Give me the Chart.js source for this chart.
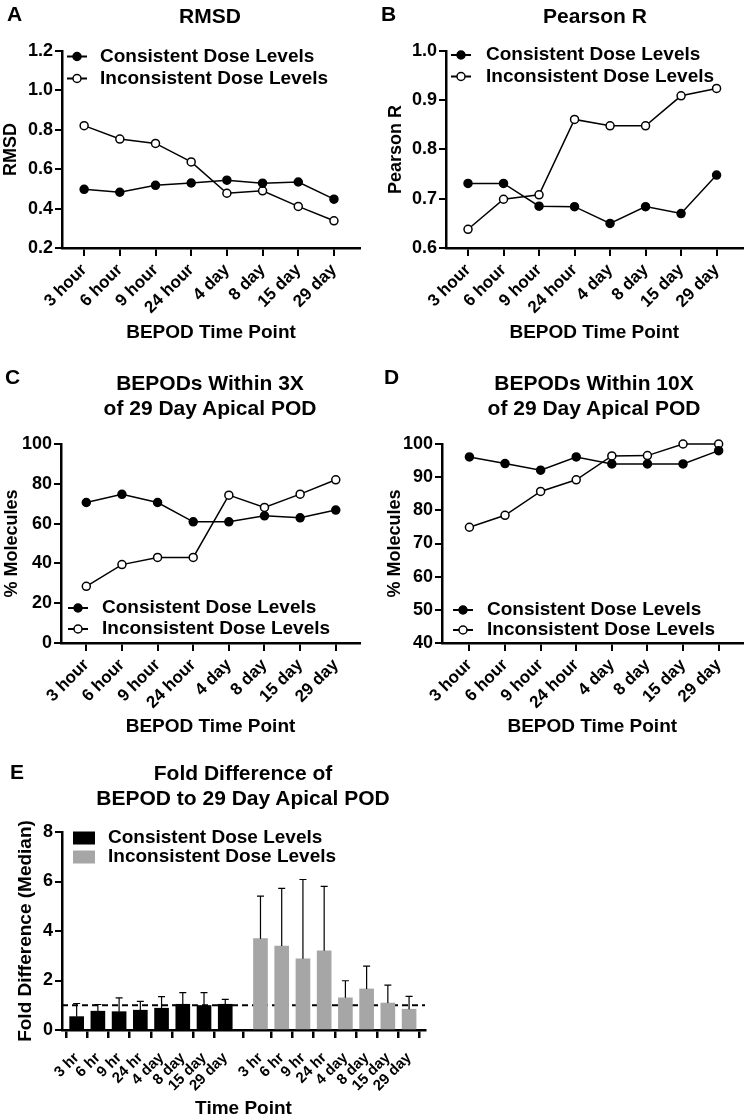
<!DOCTYPE html>
<html>
<head>
<meta charset="utf-8">
<script src="https://cdn.jsdelivr.net/npm/chart.js@4.4.1/dist/chart.umd.min.js"></script>
<style>
  body { margin: 0; background: #fff; }
  #page { position: relative; width: 748px; height: 1120px; font-family: 'Liberation Sans', Arial, sans-serif; font-weight: bold; color: #000; }
  .panel { position: absolute; }
  .letter { position: absolute; font-size: 21px; line-height: 25px; }
  .title { position: absolute; width: 400px; text-align: center; font-size: 21px; line-height: 25px; white-space: nowrap; }
</style>
</head>
<body>
<div id="page">
  <div class="panel" style="left:0;top:0"><canvas id="chartA" width="374" height="345"></canvas></div>
  <div class="panel" style="left:374px;top:0"><canvas id="chartB" width="374" height="345"></canvas></div>
  <div class="panel" style="left:0;top:345px"><canvas id="chartC" width="374" height="395"></canvas></div>
  <div class="panel" style="left:374px;top:345px"><canvas id="chartD" width="374" height="395"></canvas></div>
  <div class="panel" style="left:0;top:745px"><canvas id="chartE" width="440" height="375"></canvas></div>

  <div class="letter" style="left:7px;top:1px">A</div>
  <div class="title" style="left:10px;top:3px">RMSD</div>
  <div class="letter" style="left:381px;top:1px">B</div>
  <div class="title" style="left:395px;top:3px">Pearson R</div>
  <div class="letter" style="left:5px;top:364px">C</div>
  <div class="title" style="left:10px;top:370px">BEPODs Within 3X<br>of 29 Day Apical POD</div>
  <div class="letter" style="left:384px;top:364px">D</div>
  <div class="title" style="left:394px;top:370px">BEPODs Within 10X<br>of 29 Day Apical POD</div>
  <div class="letter" style="left:10px;top:759px">E</div>
  <div class="title" style="left:43px;top:760px">Fold Difference of<br>BEPOD to 29 Day Apical POD</div>
</div>

<script>
// Data
const timeLabels = ['3 hour', '6 hour', '9 hour', '24 hour', '4 day', '8 day', '15 day', '29 day'];
const seriesNames = ['Consistent Dose Levels', 'Inconsistent Dose Levels'];

const rmsdConsistent = [0.498, 0.483, 0.518, 0.530, 0.544, 0.529, 0.535, 0.448];
const rmsdInconsistent = [0.821, 0.753, 0.731, 0.637, 0.478, 0.490, 0.411, 0.338];

const pearsonConsistent = [0.731, 0.731, 0.685, 0.684, 0.650, 0.684, 0.670, 0.748];
const pearsonInconsistent = [0.638, 0.699, 0.708, 0.861, 0.848, 0.848, 0.909, 0.924];

const within3xConsistent = [70.6, 74.7, 70.6, 60.9, 60.9, 63.9, 62.9, 66.8];
const within3xInconsistent = [28.5, 39.4, 43.0, 43.0, 74.3, 68.1, 74.8, 82.0];

const within10xConsistent = [96.1, 94.1, 92.1, 96.1, 94.0, 94.0, 94.0, 98.0];
const within10xInconsistent = [74.9, 78.5, 85.7, 89.2, 96.4, 96.5, 100, 100];

const foldLabels = ['3 hr', '6 hr', '9 hr', '24 hr', '4 day', '8 day', '15 day', '29 day'];
const foldConsistent = [0.54, 0.76, 0.74, 0.80, 0.88, 1.04, 0.99, 1.04];
const foldConsistentErr = [0.53, 0.27, 0.56, 0.36, 0.47, 0.47, 0.52, 0.20];
const foldInconsistent = [3.69, 3.39, 2.88, 3.20, 1.30, 1.66, 1.09, 0.84];
const foldInconsistentErr = [1.72, 2.33, 3.20, 2.60, 0.69, 0.92, 0.72, 0.52];
const foldReference = 1;

const FONT = "'Liberation Sans', Arial, sans-serif";
Chart.defaults.font.family = FONT;
Chart.defaults.font.weight = 'bold';
Chart.defaults.color = '#000';

// Legend drawn inside the plot area
const innerLegend = {
    id: 'innerLegend',
    afterDraw(chart, args, opts) {
        const ctx = chart.ctx;
        ctx.save();
        ctx.font = 'bold 19px ' + FONT;
        ctx.textBaseline = 'middle';
        chart.data.datasets.forEach(function(ds, i) {
            const y = opts.rows[i];
            if (opts.kind === 'box') {
                ctx.fillStyle = ds.backgroundColor;
                ctx.fillRect(opts.markX, y - 6.5, 22, 13);
            } else {
                ctx.strokeStyle = '#000';
                ctx.lineWidth = 2;
                ctx.beginPath();
                ctx.moveTo(opts.markX, y);
                ctx.lineTo(opts.markX + 20, y);
                ctx.stroke();
                ctx.beginPath();
                ctx.arc(opts.markX + 10, y, 4, 0, Math.PI * 2);
                ctx.fillStyle = ds.pointBackgroundColor;
                ctx.fill();
                ctx.lineWidth = 1.5;
                ctx.stroke();
            }
            ctx.fillStyle = '#000';
            ctx.fillText(ds.label, opts.textX, y);
        });
        ctx.restore();
    }
};

// Upward error bars for the bar chart
const errorBars = {
    id: 'errorBars',
    afterDatasetsDraw(chart) {
        const ctx = chart.ctx;
        const yScale = chart.scales.y;
        ctx.save();
        ctx.strokeStyle = '#000';
        ctx.lineWidth = 1.2;
        chart.data.datasets.forEach(function(ds, i) {
            if (!ds.errors) return;
            chart.getDatasetMeta(i).data.forEach(function(bar, j) {
                const top = yScale.getPixelForValue(ds.data[j].y + ds.errors[j]);
                ctx.beginPath();
                ctx.moveTo(bar.x, bar.y);
                ctx.lineTo(bar.x, top);
                ctx.moveTo(bar.x - 3.5, top);
                ctx.lineTo(bar.x + 3.5, top);
                ctx.stroke();
            });
        });
        ctx.restore();
    }
};

// Dashed reference line at fold difference = 1
const refLine = {
    id: 'refLine',
    beforeDatasetsDraw(chart) {
        const ctx = chart.ctx;
        const area = chart.chartArea;
        const y = chart.scales.y.getPixelForValue(foldReference);
        ctx.save();
        ctx.strokeStyle = '#000';
        ctx.lineWidth = 2;
        ctx.setLineDash([6, 4]);
        ctx.beginPath();
        ctx.moveTo(area.left, y);
        ctx.lineTo(area.right, y);
        ctx.stroke();
        ctx.restore();
    }
};

function toPoints(values, start) {
    return values.map(function(v, i) { return { x: i + (start || 0), y: v }; });
}

// Build one of the four line panels
function createLineChart(id, opt) {
    const ctx = document.getElementById(id).getContext('2d');
    new Chart(ctx, {
        type: 'line',
        data: {
            datasets: [
                {
                    label: seriesNames[0],
                    data: toPoints(opt.consistent),
                    borderColor: '#000',
                    borderWidth: 1.5,
                    pointRadius: 4,
                    pointBorderWidth: 1.5,
                    pointBorderColor: '#000',
                    pointBackgroundColor: '#000',
                    clip: false
                },
                {
                    label: seriesNames[1],
                    data: toPoints(opt.inconsistent),
                    borderColor: '#000',
                    borderWidth: 1.5,
                    pointRadius: 4,
                    pointBorderWidth: 1.5,
                    pointBorderColor: '#000',
                    pointBackgroundColor: '#fff',
                    clip: false
                }
            ]
        },
        options: {
            responsive: false,
            animation: false,
            layout: { padding: { left: 0, right: opt.padRight, top: opt.padTop, bottom: 0 } },
            plugins: {
                legend: { display: false },
                tooltip: { enabled: false },
                innerLegend: opt.legend
            },
            scales: {
                x: {
                    type: 'linear',
                    min: opt.xMin,
                    max: opt.xMax,
                    afterBuildTicks: function(scale) {
                        scale.ticks = timeLabels.map(function(t, i) { return { value: i }; });
                    },
                    afterFit: function(scale) {
                        scale.height = opt.xHeight;
                        scale.paddingLeft = 0;
                        scale.paddingRight = 0;
                    },
                    ticks: {
                        autoSkip: false,
                        minRotation: 45,
                        maxRotation: 45,
                        padding: 4,
                        font: { size: 17, weight: 'bold' },
                        callback: function(value, index) { return timeLabels[index]; }
                    },
                    grid: { display: true, drawOnChartArea: false, drawTicks: true, tickLength: 8, color: '#000', lineWidth: 2 },
                    border: { display: true, color: '#000', width: 2.5 },
                    title: { display: true, text: 'BEPOD Time Point', font: { size: 19, weight: 'bold' }, padding: { top: 0, bottom: opt.xTitlePad } }
                },
                y: {
                    min: opt.yMin,
                    max: opt.yMax,
                    afterFit: function(scale) { scale.width = opt.yWidth; },
                    ticks: {
                        stepSize: opt.yStep,
                        padding: 2,
                        font: { size: 18, weight: 'bold' },
                        callback: function(value) { return opt.yDecimals ? value.toFixed(opt.yDecimals) : value; }
                    },
                    grid: { display: true, drawOnChartArea: false, drawTicks: true, tickLength: 7, color: '#000', lineWidth: 2 },
                    border: { display: true, color: '#000', width: 2.5 },
                    title: { display: true, text: opt.yTitle, font: { size: 18, weight: 'bold' }, padding: { top: opt.yTitlePad, bottom: 0 } }
                }
            }
        },
        plugins: [innerLegend]
    });
}

createLineChart('chartA', {
    consistent: rmsdConsistent, inconsistent: rmsdInconsistent,
    padTop: 51, padRight: 14, yWidth: 62, xHeight: 97,
    xMin: -0.62, xMax: 7.73, yMin: 0.2, yMax: 1.2, yStep: 0.2, yDecimals: 1,
    yTitle: 'RMSD', yTitlePad: 0, xTitlePad: 1,
    legend: { kind: 'line', markX: 67, textX: 100, rows: [56.5, 78.5] }
});

createLineChart('chartB', {
    consistent: pearsonConsistent, inconsistent: pearsonInconsistent,
    padTop: 51, padRight: 4, yWidth: 72, xHeight: 97,
    xMin: -0.62, xMax: 7.73, yMin: 0.6, yMax: 1.0, yStep: 0.1, yDecimals: 1,
    yTitle: 'Pearson R', yTitlePad: 11, xTitlePad: 1,
    legend: { kind: 'line', markX: 77, textX: 112, rows: [55, 76.5] }
});

createLineChart('chartC', {
    consistent: within3xConsistent, inconsistent: within3xInconsistent,
    padTop: 99, padRight: 14, yWidth: 61, xHeight: 97,
    xMin: -0.71, xMax: 7.68, yMin: 0, yMax: 100, yStep: 20, yDecimals: 0,
    yTitle: '% Molecules', yTitlePad: 1, xTitlePad: 2,
    legend: { kind: 'line', markX: 68, textX: 102, rows: [263, 284] }
});

createLineChart('chartD', {
    consistent: within10xConsistent, inconsistent: within10xInconsistent,
    padTop: 99, padRight: 4, yWidth: 68, xHeight: 97,
    xMin: -0.77, xMax: 7.67, yMin: 40, yMax: 100, yStep: 10, yDecimals: 0,
    yTitle: '% Molecules', yTitlePad: 10.5, xTitlePad: 2,
    legend: { kind: 'line', markX: 79, textX: 113, rows: [265, 285] }
});

// Panel E: grouped bars with a gap between the two dose-level groups
const groupGap = 1.66;
const secondStart = foldLabels.length - 1 + groupGap;
const barPositions = foldLabels.map(function(t, i) { return i; })
    .concat(foldLabels.map(function(t, i) { return secondStart + i; }));

new Chart(document.getElementById('chartE').getContext('2d'), {
    type: 'bar',
    data: {
        datasets: [
            {
                label: seriesNames[0],
                data: toPoints(foldConsistent, 0),
                errors: foldConsistentErr,
                backgroundColor: '#000',
                barThickness: 14,
                grouped: false
            },
            {
                label: seriesNames[1],
                data: toPoints(foldInconsistent, secondStart),
                errors: foldInconsistentErr,
                backgroundColor: '#a6a6a6',
                barThickness: 14,
                grouped: false
            }
        ]
    },
    options: {
        responsive: false,
        animation: false,
        layout: { padding: { left: 0, right: 15, top: 87, bottom: 0 } },
        plugins: {
            legend: { display: false },
            tooltip: { enabled: false },
            innerLegend: { kind: 'box', markX: 73, textX: 108, rows: [93, 112] }
        },
        scales: {
            x: {
                type: 'linear',
                offset: false,
                min: -0.69,
                max: 16.41,
                afterBuildTicks: function(scale) {
                    scale.ticks = barPositions.map(function(v) { return { value: v }; });
                },
                afterFit: function(scale) {
                    scale.height = 90;
                    scale.paddingLeft = 0;
                    scale.paddingRight = 0;
                },
                ticks: {
                    autoSkip: false,
                    minRotation: 45,
                    maxRotation: 45,
                    padding: 11,
                    font: { size: 15, weight: 'bold' },
                    callback: function(value, index) { return foldLabels[index % foldLabels.length]; }
                },
                grid: { display: true, drawOnChartArea: false, drawTicks: true, tickLength: 8, color: '#000', lineWidth: 2.5 },
                border: { display: true, color: '#000', width: 2.5 },
                title: { display: true, text: 'Time Point', font: { size: 19, weight: 'bold' }, padding: { top: 0, bottom: 0 } }
            },
            y: {
                min: 0,
                max: 8,
                afterFit: function(scale) { scale.width = 62; },
                ticks: { stepSize: 2, padding: 2, font: { size: 18, weight: 'bold' } },
                grid: { display: true, drawOnChartArea: false, drawTicks: true, tickLength: 7, color: '#000', lineWidth: 2 },
                border: { display: true, color: '#000', width: 2.5 },
                title: { display: true, text: 'Fold Difference (Median)', font: { size: 19, weight: 'bold' }, padding: { top: 14, bottom: 0 } }
            }
        }
    },
    plugins: [refLine, errorBars, innerLegend]
});
</script>
</body>
</html>
